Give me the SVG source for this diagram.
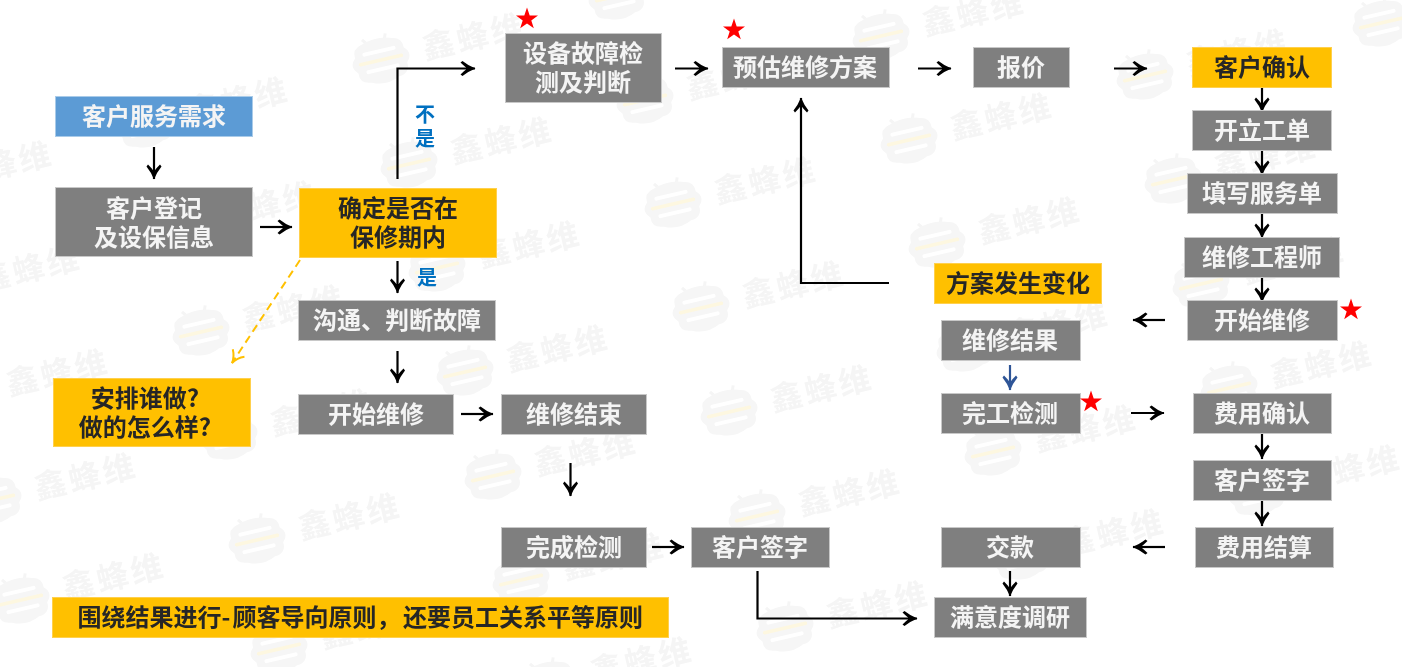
<svg xmlns="http://www.w3.org/2000/svg" width="1402" height="667" viewBox="0 0 1402 667">
<style>
text{font-family:"Noto Sans CJK SC","Liberation Sans",sans-serif;font-weight:700;font-size:24px;text-anchor:middle}
.g rect{fill:#7f7f7f;stroke:#c8c8c8;stroke-width:1}
.g text{fill:#f4f4f4}
.y rect{fill:#ffc000;stroke:#ffd04d;stroke-width:1}
.y text{fill:#262626}
.b rect{fill:#5b9bd5;stroke:#a9cbe9;stroke-width:1}
.b text{fill:#f4f4f4}
.lab{fill:#0070c0;font-size:20px}
.c{fill:none;stroke:#000;stroke-width:2.200;marker-end:url(#ah)}
.wm{fill:#f5f5f5;font-size:32px;letter-spacing:3px}
.star{fill:#ff0000}
</style>
<defs>
<filter id="soft" x="-2%" y="-2%" width="104%" height="104%"><feGaussianBlur stdDeviation="0.35"/></filter>
<filter id="softw" x="-2%" y="-2%" width="104%" height="104%"><feGaussianBlur stdDeviation="0.7"/></filter>
<marker id="ah" markerUnits="userSpaceOnUse" viewBox="-16 -9 18 18" refX="0" refY="0" markerWidth="18" markerHeight="18" orient="auto"><path d="M0.500,0 Q-7,-3 -12.500,-7.500 L-14.500,-6 Q-11,-2.500 -9,-1.100 L-9,1.100 Q-11,2.500 -14.500,6 L-12.500,7.500 Q-7,3 0.500,0Z" fill="#000"/></marker>
<marker id="ahb" markerUnits="userSpaceOnUse" viewBox="-16 -9 18 18" refX="0" refY="0" markerWidth="18" markerHeight="18" orient="auto"><path d="M0.500,0 Q-7,-3 -12.500,-7.500 L-14.500,-6 Q-11,-2.500 -9,-1.100 L-9,1.100 Q-11,2.500 -14.500,6 L-12.500,7.500 Q-7,3 0.500,0Z" fill="#2f5597"/></marker>
<marker id="aho" markerUnits="userSpaceOnUse" viewBox="-16 -9 18 18" refX="0" refY="0" markerWidth="18" markerHeight="18" orient="auto"><path d="M-12,-7 Q-7,-1.500 0,0 Q-7,1.500 -12,7" fill="none" stroke="#ffc000" stroke-width="2"/></marker>
<polygon id="s" class="star" points="0,-11.500 2.700,-3.600 11,-3.600 4.300,1.400 6.800,9.300 0,4.500 -6.800,9.300 -4.300,1.400 -11,-3.600 -2.700,-3.600"/>
<g id="w">
<g transform="translate(-93 23) rotate(-13)">
<path d="M-14,-24 L-9,-17 M10,-25 L7,-17" stroke="#f5f5f5" stroke-width="3" fill="none"/>
<path d="M-16,-19 Q0,-25 16,-19 Q26,-17 25,-7 Q33,0 25,8 Q26,19 14,20 Q0,27 -14,20 Q-26,19 -25,8 Q-33,0 -25,-7 Q-26,-17 -16,-19 Z" fill="#f6f6f6"/>
<path d="M-15,-9 H15 M-15,9 H15" stroke="#fff" stroke-width="4" stroke-linecap="round"/>
<path d="M-21,0 H21" stroke="#fdf7e0" stroke-width="3.500" stroke-linecap="round"/>
</g>
<text class="wm" transform="rotate(-13)" y="11">鑫蜂维</text>
</g>
</defs>
<rect width="1402" height="667" fill="#fff"/>
<g id="watermarks" filter="url(#softw)">
<use href="#w" x="238" y="101"/><use href="#w" x="266" y="205"/><use href="#w" x="294" y="309"/><use href="#w" x="322" y="413"/><use href="#w" x="350" y="517"/><use href="#w" x="372" y="626"/>
<use href="#w" x="2" y="165"/><use href="#w" x="30" y="269"/><use href="#w" x="58" y="373"/><use href="#w" x="86" y="477"/><use href="#w" x="114" y="577"/>
<use href="#w" x="474" y="37"/><use href="#w" x="502" y="141"/><use href="#w" x="530" y="245"/><use href="#w" x="558" y="349"/><use href="#w" x="586" y="453"/><use href="#w" x="614" y="557"/><use href="#w" x="642" y="661"/>
<use href="#w" x="710" y="-27"/><use href="#w" x="738" y="77"/><use href="#w" x="766" y="181"/><use href="#w" x="794" y="285"/><use href="#w" x="822" y="389"/><use href="#w" x="850" y="493"/><use href="#w" x="878" y="605"/>
<use href="#w" x="974" y="13"/><use href="#w" x="1002" y="117"/><use href="#w" x="1030" y="221"/><use href="#w" x="1058" y="325"/><use href="#w" x="1086" y="429"/><use href="#w" x="1114" y="533"/>
<use href="#w" x="1238" y="53"/><use href="#w" x="1266" y="157"/><use href="#w" x="1294" y="261"/><use href="#w" x="1322" y="365"/><use href="#w" x="1350" y="469"/>
<use href="#w" x="1474" y="0"/>
</g>
<g filter="url(#soft)">
<g id="connectors">
<path class="c" d="M154,147V179"/>
<path class="c" d="M260,227H292"/>
<path class="c" d="M397.500,179V68.500H475"/>
<path class="c" d="M397.500,261V293"/>
<path class="c" d="M397.500,351V383"/>
<path class="c" d="M461,414H493"/>
<path class="c" d="M570.500,463V496"/>
<path class="c" d="M652,547H684"/>
<path class="c" d="M757.500,571V618.500H917"/>
<path class="c" d="M675,68.500H708"/>
<path class="c" d="M918,68.500H951"/>
<path class="c" d="M1114,68.500H1147"/>
<path class="c" d="M1262,87V112"/>
<path class="c" d="M1262,150V175"/>
<path class="c" d="M1262,213V238"/>
<path class="c" d="M1262,277V302"/>
<path class="c" d="M1165,320H1133"/>
<path class="c" style="stroke:#2f5597;marker-end:url(#ahb)" d="M1010,365V390"/>
<path class="c" d="M1131,413H1164"/>
<path class="c" d="M1262,434V459"/>
<path class="c" d="M1262,501V526"/>
<path class="c" d="M1165,547H1133"/>
<path class="c" d="M1010,571V596"/>
<path class="c" d="M889,283H801V98"/>
<path class="c" style="stroke:#ffc000;stroke-width:2;stroke-dasharray:8 5;marker-end:url(#aho)" d="M300,260L232,363"/>
</g>
<g id="n1" class="b"><rect x="55.500" y="96.500" width="197" height="40"/><text x="154" y="125">客户服务需求</text></g>
<g id="n2" class="g"><rect x="55.500" y="187.500" width="197" height="69"/><text><tspan x="154" y="217">客户登记</tspan><tspan x="154" y="246">及设保信息</tspan></text></g>
<g id="n3" class="y"><rect x="299.500" y="188.500" width="197" height="69"/><text><tspan x="398" y="217">确定是否在</tspan><tspan x="398" y="246">保修期内</tspan></text></g>
<g id="n4" class="g"><rect x="298.500" y="300.500" width="197" height="40"/><text x="397" y="329">沟通、判断故障</text></g>
<g id="n5" class="y"><rect x="53.500" y="378.500" width="197" height="68"/><text><tspan x="145" y="407">安排谁做?</tspan><tspan x="145" y="436">做的怎么样?</tspan></text></g>
<g id="n6" class="g"><rect x="298.500" y="394.500" width="155" height="40"/><text x="376" y="423">开始维修</text></g>
<g id="n7" class="g"><rect x="501.500" y="394.500" width="145" height="40"/><text x="574" y="423">维修结束</text></g>
<g id="n8" class="g"><rect x="501.500" y="527.500" width="145" height="40"/><text x="574" y="556">完成检测</text></g>
<g id="n9" class="g"><rect x="691.500" y="527.500" width="138" height="40"/><text x="760" y="556">客户签字</text></g>
<g id="n10" class="y"><rect x="52.500" y="597.500" width="616" height="40"/><text x="77.500" y="626" style="text-anchor:start">围绕结果进行-<tspan dx="2">顾客导向原则，</tspan><tspan dx="2.500">还要员工关系平等原则</tspan></text></g>
<g id="n11" class="g"><rect x="505.500" y="33.500" width="156" height="69"/><text><tspan x="583" y="62">设备故障检</tspan><tspan x="583" y="91">测及判断</tspan></text></g>
<g id="n12" class="g"><rect x="722.500" y="47.500" width="167" height="40"/><text x="805" y="76">预估维修方案</text></g>
<g id="n13" class="g"><rect x="973.500" y="47.500" width="96" height="40"/><text x="1021" y="76">报价</text></g>
<g id="n14" class="y"><rect x="1192.500" y="47.500" width="139" height="40"/><text x="1262" y="76">客户确认</text></g>
<g id="n15" class="g"><rect x="1192.500" y="110.500" width="139" height="40"/><text x="1262" y="139">开立工单</text></g>
<g id="n16" class="g"><rect x="1187.500" y="173.500" width="150" height="40"/><text x="1262" y="202">填写服务单</text></g>
<g id="n17" class="g"><rect x="1184.500" y="237.500" width="155" height="40"/><text x="1262" y="266">维修工程师</text></g>
<g id="n18" class="g"><rect x="1187.500" y="300.500" width="150" height="40"/><text x="1262" y="329">开始维修</text></g>
<g id="n19" class="y"><rect x="934.500" y="263.500" width="167" height="40"/><text x="1018" y="292">方案发生变化</text></g>
<g id="n20" class="g"><rect x="941.500" y="320.500" width="139" height="40"/><text x="1010" y="349">维修结果</text></g>
<g id="n21" class="g"><rect x="941.500" y="393.500" width="139" height="40"/><text x="1010" y="422">完工检测</text></g>
<g id="n22" class="g"><rect x="1193.500" y="393.500" width="138" height="40"/><text x="1262" y="422">费用确认</text></g>
<g id="n23" class="g"><rect x="1193.500" y="460.500" width="138" height="40"/><text x="1262" y="489">客户签字</text></g>
<g id="n24" class="g"><rect x="1195.500" y="527.500" width="138" height="40"/><text x="1264" y="556">费用结算</text></g>
<g id="n25" class="g"><rect x="941.500" y="527.500" width="139" height="40"/><text x="1010" y="556">交款</text></g>
<g id="n26" class="g"><rect x="934.500" y="597.500" width="152" height="40"/><text x="1010" y="626">满意度调研</text></g>
<g id="labels">
<text class="lab"><tspan x="425" y="122">不</tspan><tspan x="425" y="146">是</tspan></text><text class="lab" x="427" y="285">是</text>
</g>
<g id="stars">
<use href="#s" x="527" y="19"/><use href="#s" x="734" y="30"/><use href="#s" x="1351" y="310"/><use href="#s" x="1091" y="402"/>
</g>
</g>
</svg>
